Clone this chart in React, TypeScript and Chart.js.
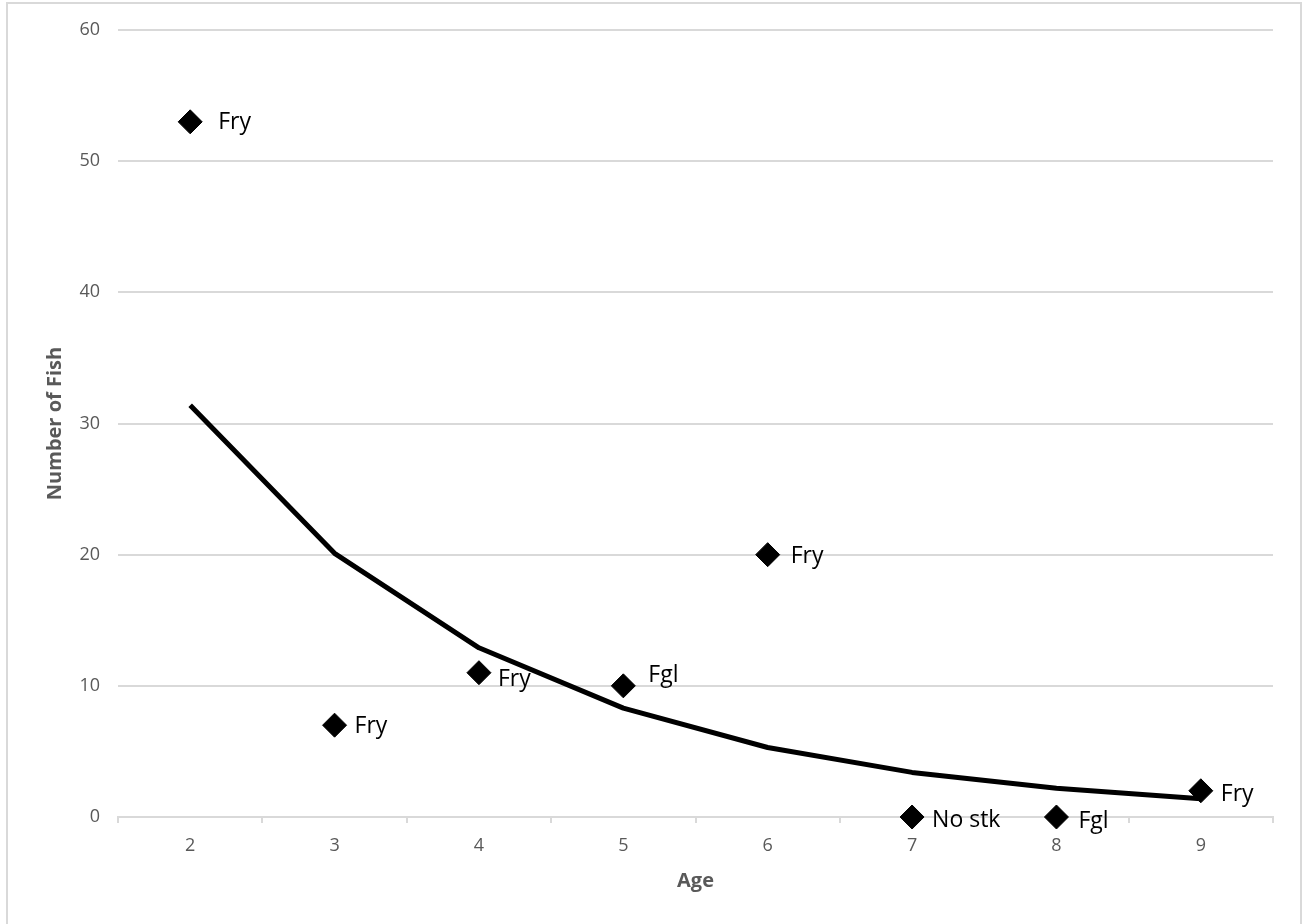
import { useEffect, useRef } from "react";
import { Chart, registerables } from "chart.js";

Chart.register(...registerables);

// Fish counts by age, with the stocking type of each cohort
const ages = ["2", "3", "4", "5", "6", "7", "8", "9"];
const fishCounts = [53, 7, 11, 10, 20, 0, 0, 2];
const stockingTypes = ["Fry", "Fry", "Fry", "Fgl", "Fry", "No stk", "Fgl", "Fry"];
// Exponential trend through the counts
const trendValues = [31.4, 20.1, 12.9, 8.3, 5.3, 3.4, 2.2, 1.4];

const yMin = 0;
const yMax = 60;
const yStep = 10;

// Placement of each stocking label relative to its marker: [dx, baseline dy]
const labelOffsets: [number, number][] = [
  [28, 7],
  [20, 8],
  [19, 13],
  [25, -4],
  [23, 8],
  [20, 10],
  [22, 11],
  [20, 10],
];

const FONT = "'Open Sans', 'Noto Sans', sans-serif";
const AXIS_GREY = "#595959";
const GRID_GREY = "#d9d9d9";

const framePlugin = {
  id: "frame",
  beforeDraw(chart: Chart) {
    const { ctx } = chart;
    ctx.save();
    ctx.fillStyle = "#ffffff";
    ctx.fillRect(0, 0, chart.width, chart.height);
    ctx.strokeStyle = GRID_GREY;
    ctx.lineWidth = 2;
    ctx.strokeRect(7, 3, 1294, chart.height + 20);
    ctx.restore();
  },
};

const stockingLabelPlugin = {
  id: "stockingLabels",
  afterDatasetsDraw(chart: Chart) {
    const { ctx } = chart;
    const meta = chart.getDatasetMeta(0);
    ctx.save();
    ctx.font = `23px ${FONT}`;
    ctx.fillStyle = "#000000";
    ctx.textAlign = "left";
    ctx.textBaseline = "alphabetic";
    meta.data.forEach((pt: any, i: number) => {
      const [dx, dy] = labelOffsets[i];
      ctx.fillText(stockingTypes[i], pt.x + dx, pt.y + dy);
    });
    ctx.restore();
  },
};

export default function App() {
  const canvasRef = useRef<HTMLCanvasElement | null>(null);

  useEffect(() => {
    const canvas = canvasRef.current;
    if (!canvas) return;
    const chart = new Chart(canvas, {
      type: "line",
      data: {
        labels: ages,
        datasets: [
          {
            label: "Number of Fish",
            data: fishCounts,
            showLine: false,
            clip: false,
            pointStyle: "rectRot",
            pointRadius: 12,
            pointHoverRadius: 12,
            pointBackgroundColor: "#000000",
            pointBorderColor: "#000000",
            pointBorderWidth: 1,
            borderColor: "#000000",
            backgroundColor: "#000000",
            order: 0,
          },
          {
            label: "Trend",
            data: trendValues,
            clip: false,
            borderColor: "#000000",
            borderWidth: 5,
            borderJoinStyle: "round",
            pointRadius: 0,
            pointHoverRadius: 0,
            tension: 0,
            fill: false,
            order: 1,
          },
        ],
      },
      options: {
        responsive: false,
        animation: false,
        events: [],
        layout: { padding: { left: 43, top: 30, right: 30, bottom: 31 } },
        plugins: {
          legend: { display: false },
          tooltip: { enabled: false },
          title: { display: false },
        },
        scales: {
          x: {
            type: "category",
            offset: true,
            afterFit: (scale: any) => {
              scale.height = 76;
            },
            grid: {
              offset: true,
              drawOnChartArea: false,
              drawTicks: true,
              tickLength: 6,
              color: GRID_GREY,
              lineWidth: 2,
            },
            border: { display: true, color: GRID_GREY, width: 2 },
            ticks: {
              color: AXIS_GREY,
              font: { family: FONT, size: 18 },
              padding: 12,
              maxRotation: 0,
            },
            title: {
              display: true,
              text: "Age",
              color: AXIS_GREY,
              font: { family: FONT, size: 20, weight: "bold" },
              padding: 0,
            },
          },
          y: {
            min: yMin,
            max: yMax,
            afterFit: (scale: any) => {
              scale.width = 75;
            },
            grid: {
              color: GRID_GREY,
              lineWidth: 2,
              drawTicks: false,
            },
            border: { display: false },
            ticks: {
              stepSize: yStep,
              color: AXIS_GREY,
              font: { family: FONT, size: 18 },
              padding: 18,
            },
            title: {
              display: true,
              text: "Number of Fish",
              color: AXIS_GREY,
              font: { family: FONT, size: 20, weight: "bold" },
              padding: 0,
            },
          },
        },
      },
      plugins: [framePlugin, stockingLabelPlugin],
    });
    return () => chart.destroy();
  }, []);

  return (
    <div style={{ position: "fixed", left: 0, top: 0, width: 1303, height: 924, background: "#ffffff" }}>
      <canvas ref={canvasRef} width={1303} height={924} style={{ display: "block" }} />
    </div>
  );
}
